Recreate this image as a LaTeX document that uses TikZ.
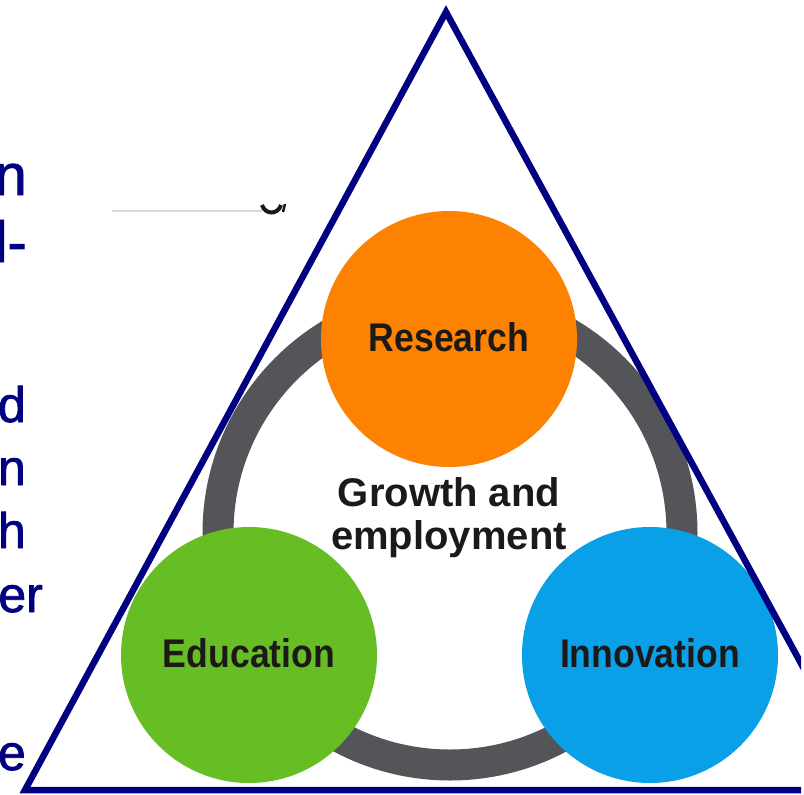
\documentclass[tikz,border=0pt]{standalone}
\usepackage{fontspec}
\setmainfont{Liberation Sans}
\newfontfamily\circlefont[FakeStretch=0.89]{Liberation Sans}
\newfontfamily\slidefont[FakeBold=1.5]{Liberation Sans}
\definecolor{slidenavy}{RGB}{0,0,128}
\definecolor{ringgray}{RGB}{84,85,89}
\definecolor{researchorange}{RGB}{253,130,2}
\definecolor{educationgreen}{RGB}{103,190,36}
\definecolor{innovationblue}{RGB}{10,160,232}
\definecolor{labelink}{RGB}{28,26,24}

\begin{document}
\begin{tikzpicture}[x=1pt, y=-1pt,
    pillar/.style={circle, minimum size=256pt, inner sep=0pt,
      font=\circlefont\bfseries\fontsize{40}{40}\selectfont, text=labelink},
    slidetext/.style={anchor=base east, inner sep=0pt, text=slidenavy},
    ring/.style={draw=ringgray, line width=31pt}]
  \useasboundingbox (0,0) rectangle (804,795);
  \fill[white] (0,0) rectangle (804,795);

  \begin{scope}
    \clip (0,0) rectangle (801,795);
    \node[slidetext, font=\slidefont\fontsize{58}{58}\selectfont] (l1) at (27,195) {n};
    \node[slidetext, font=\slidefont\fontsize{58}{58}\selectfont] (l2) at (27,262) {d-};
    \node[slidetext, font=\slidefont\fontsize{50}{50}\selectfont] (l3) at (26,422) {d};
    \node[slidetext, font=\slidefont\fontsize{50}{50}\selectfont] (l4) at (26,485) {n};
    \node[slidetext, font=\slidefont\fontsize{50}{50}\selectfont] (l5) at (26,548) {h};
    \node[slidetext, font=\slidefont\fontsize{50}{50}\selectfont] (l6) at (43,612) {er};
    \node[slidetext, font=\slidefont\fontsize{50}{50}\selectfont] (l7) at (26,770) {e};

    \draw[gray!30, line width=2pt] (112,211) -- ++(150,0);
    \draw[labelink, line width=4pt] (262,205) .. controls (265,215) and (278,215) .. (281,205);
    \draw[labelink, line width=2.5pt] (285,204) -- ++(-2,8);

    \draw[ring] (450,533) circle[radius=232];

    \node[pillar, fill=researchorange] (research) at (449,339) {\raisebox{3pt}{Research}};
    \node[pillar, fill=educationgreen] (education) at (249,655) {\raisebox{3pt}{Education}};
    \node[pillar, fill=innovationblue] (innovation) at (650,655) {\raisebox{3pt}{Innovation}};

    \node[font=\bfseries\fontsize{40}{43}\selectfont, text=labelink, align=center,
      inner sep=0pt] (growth) at (449,518) {Growth and\\employment};

    \draw[slidenavy, line width=6.5pt] (446,12) -- (25,790) -- (870,790) -- cycle;
  \end{scope}
\end{tikzpicture}
\end{document}
